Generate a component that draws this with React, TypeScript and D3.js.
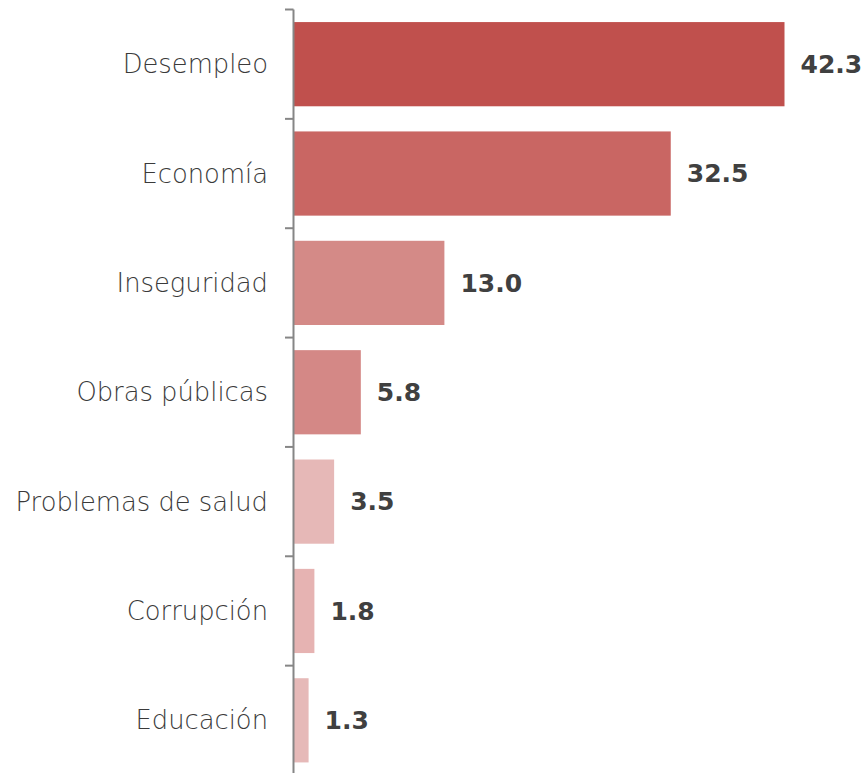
import React from "react";
import * as d3 from "d3";

const categories = ["Desempleo", "Economía", "Inseguridad", "Obras públicas", "Problemas de salud", "Corrupción", "Educación"];
const values = [42.3, 32.5, 13.0, 5.8, 3.5, 1.8, 1.3];
const colors = ["#C0504D", "#C96663", "#D48A87", "#D48886", "#E6B8B7", "#E6B3B2", "#E6B9B8"];

export default function App() {
  const W = 867, H = 773;
  const x0 = 293.5;
  const x = d3.scaleLinear().domain([0, 42.3]).range([x0, 784.5]);
  const y = d3.scaleBand<string>().domain(categories).range([9.5, 775]).paddingInner(0.23).paddingOuter(0.115);
  const ticks = d3.range(categories.length + 1).map(i => 9.5 + i * (775 - 9.5) / categories.length);
  return (
    <svg width={W} height={H} style={{ position: "absolute", left: 0, top: 0 }}>
      <rect width={W} height={H} fill="#fff" />
      {categories.map((c, i) => (
        <g key={c}>
          <rect x={x(0)} y={y(c)} width={x(values[i]) - x(0)} height={y.bandwidth()} fill={colors[i]} />
          <text x={268} y={(y(c) as number) + y.bandwidth() / 2} dy="0.35em" textAnchor="end"
            fontFamily="'DejaVu Sans', sans-serif" fontWeight={300} fontSize={25.8} fill="#3a3a3a">{c}</text>
          <text x={x(values[i]) + 16} y={(y(c) as number) + y.bandwidth() / 2} dy="0.35em"
            fontFamily="'DejaVu Sans', sans-serif" fontWeight="bold" fontSize={25} fill="#404040">{values[i].toFixed(1)}</text>
        </g>
      ))}
      <line x1={x0} x2={x0} y1={9.5} y2={775} stroke="#868686" strokeWidth={2} />
      {ticks.map((t, i) => (
        <line key={i} x1={285} x2={x0} y1={t} y2={t} stroke="#868686" strokeWidth={2} />
      ))}
    </svg>
  );
}
